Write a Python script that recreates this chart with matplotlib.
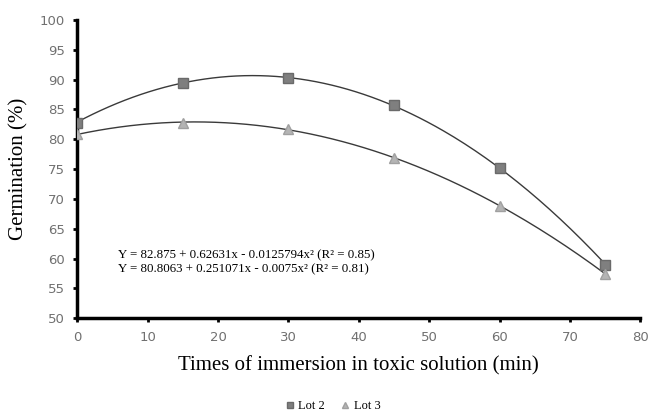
import numpy as np
import matplotlib
matplotlib.use("Agg")
import matplotlib.pyplot as plt

times = [0, 15, 30, 45, 60, 75]
lot2 = [82.8, 89.5, 90.3, 85.7, 75.2, 59.0]
lot3 = [80.8, 82.8, 81.7, 76.8, 68.8, 57.5]
coef2 = [82.875, 0.62631, -0.0125794]
coef3 = [80.8063, 0.251071, -0.0075]
eq2 = "Y = 82.875 + 0.62631x - 0.0125794x² (R² = 0.85)"
eq3 = "Y = 80.8063 + 0.251071x - 0.0075x² (R² = 0.81)"
xticks = [0, 10, 20, 30, 40, 50, 60, 70, 80]
yticks = [50, 55, 60, 65, 70, 75, 80, 85, 90, 95, 100]

fig = plt.figure(figsize=(6.65, 4.15), dpi=100)
ax = fig.add_axes([0.116, 0.233, 0.847, 0.719])

xs = np.linspace(0, 75, 200)
for c in (coef2, coef3):
    ax.plot(xs, c[0] + c[1] * xs + c[2] * xs ** 2, color='#3a3a3a', lw=1.0, zorder=2)

ax.plot(times, lot2, ls='none', marker='s', ms=7, color='#7f7f7f', mec='#6a6a6a', zorder=3, label='Lot 2')
ax.plot(times, lot3, ls='none', marker='^', ms=7, color='#b4b4b4', mec='#a0a0a0', zorder=3, label='Lot 3')

ax.set_xlim(0, 80)
ax.set_ylim(50, 100)
ax.set_xticks(xticks)
ax.set_yticks(yticks)
for s in ('top', 'right'):
    ax.spines[s].set_visible(False)
for s in ('left', 'bottom'):
    ax.spines[s].set_linewidth(2.5)
ax.tick_params(direction='out', length=3, width=2, labelsize=9.5, labelcolor='#707070', pad=6)

serif = 'Liberation Serif'
ax.set_xlabel('Times of immersion in toxic solution (min)', family=serif, fontsize=15, labelpad=9)
ax.set_ylabel('Germination (%)', family=serif, fontsize=15, labelpad=8)

ax.text(5.8, 59.4, eq2 + "\n" + eq3, family=serif, fontsize=9.3, va='center',
        linespacing=1.2)

leg = fig.legend(loc='lower center', bbox_to_anchor=(0.5, -0.02), ncol=2, frameon=False,
                 prop={'family': serif, 'size': 9}, handlelength=0.8, handletextpad=0.3,
                 columnspacing=1.2, markerscale=0.7)

fig.savefig('out.png', dpi=100)
